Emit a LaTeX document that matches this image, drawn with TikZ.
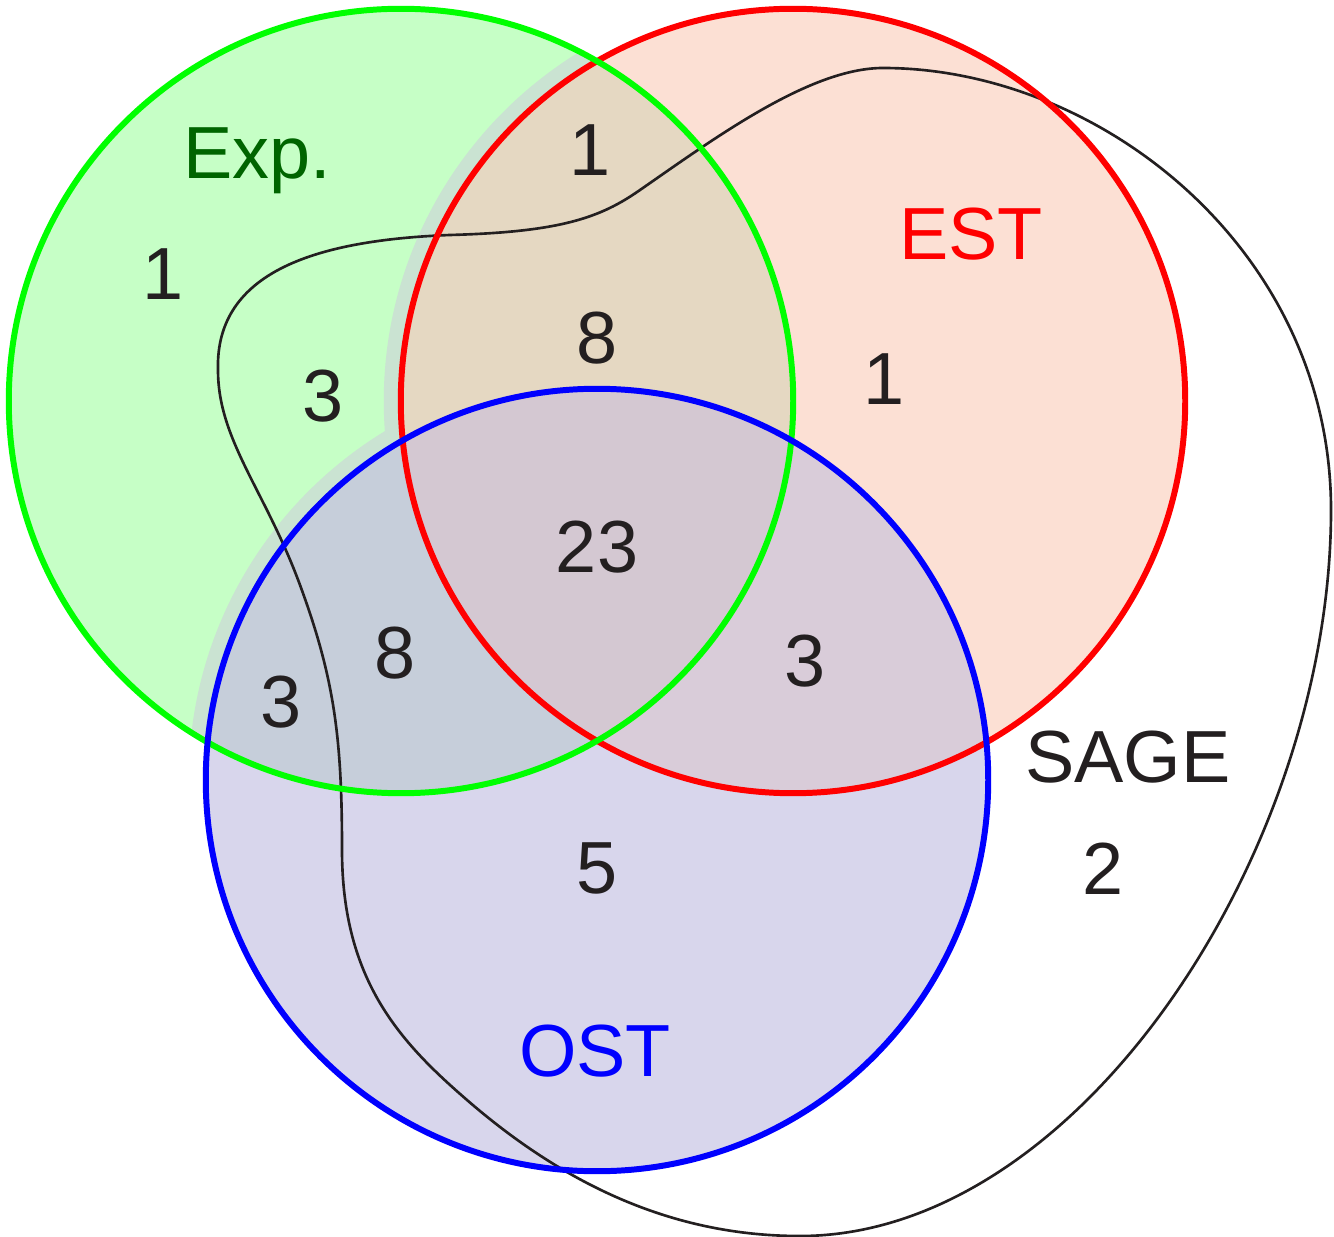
\documentclass[tikz,border=0pt]{standalone}
\usepackage{fontspec}
\setmainfont{Liberation Sans}
\usepackage{tikz}

\definecolor{expfill}{RGB}{198,255,198}
\definecolor{estfill}{RGB}{252,224,212}
\definecolor{ostfill}{RGB}{216,214,236}
\definecolor{expest}{RGB}{229,216,194}
\definecolor{expost}{RGB}{198,206,218}
\definecolor{estost}{RGB}{217,204,217}
\definecolor{allthree}{RGB}{212,200,210}
\definecolor{bandgray}{RGB}{202,227,210}
\definecolor{ink}{RGB}{35,31,32}
\definecolor{expgreen}{RGB}{0,100,0}

\begin{document}
\begin{tikzpicture}[x=0.01cm, y=-0.01cm,
    num/.style = {font=\fontsize{21}{25}\selectfont, text=ink, anchor=base, inner sep=0pt},
    setname/.style = {num},
    ring/.style = {line width=1.7pt}]
    \useasboundingbox (0,0) rectangle (1334,1237);
    \coordinate (exp) at (401,401);
    \coordinate (est) at (793,401);
    \coordinate (ost) at (597,780);

    % fills
    \fill[expfill] (exp) circle[radius=3.92cm];
    \fill[estfill] (est) circle[radius=3.92cm];
    \fill[ostfill] (ost) circle[radius=3.91cm];
    \begin{scope}
        \clip (exp) circle[radius=3.92cm];
        \fill[bandgray] (est) circle[radius=4.09cm];
        \fill[bandgray] (ost) circle[radius=4.08cm];
        \fill[expest] (est) circle[radius=3.92cm];
        \fill[expost] (ost) circle[radius=3.91cm];
    \end{scope}
    \begin{scope}
        \clip (est) circle[radius=3.92cm];
        \fill[estost] (ost) circle[radius=3.91cm];
        \clip (exp) circle[radius=3.92cm];
        \fill[allthree] (ost) circle[radius=3.91cm];
    \end{scope}

    % SAGE
    \draw[ink, line width=0.75pt] (218,370)
        .. controls (215,270) and (320,240) .. (450,235)
        .. controls (560,232) and (600,218) .. (640,190)
        .. controls (715,138) and (810,68) .. (883,68)
        .. controls (1100,68) and (1331,250) .. (1331,510)
        .. controls (1331,850) and (1080,1236) .. (800,1236)
        .. controls (690,1236) and (580,1198) .. (467,1100)
        .. controls (400,1042) and (342,980) .. (342,850)
        .. controls (342,740) and (335,680) .. (300,585)
        .. controls (265,490) and (218,440) .. cycle;

    \draw[ring, red] (est) circle[radius=3.92cm];
    \draw[ring, green] (exp) circle[radius=3.92cm];
    \draw[ring, blue] (ost) circle[radius=3.91cm];

    \node[setname, text=expgreen] (lexp) at (257,179) {Exp.};
    \node[setname, text=red] (lest) at (971,260) {EST};
    \node[setname, text=blue] (lost) at (595,1076) {OST};
    \node[setname] (lsage) at (1128,782) {SAGE};

    \node[num] (e) at (163,300) {1};
    \node[num] (es) at (323,422) {3};
    \node[num] (er) at (590,176) {1};
    \node[num] (ers) at (597,364) {8};
    \node[num] (rs) at (884,405) {1};
    \node[num] (all) at (597,572) {23};
    \node[num] (rb) at (805,686) {3};
    \node[num] (ebs) at (395,678) {8};
    \node[num] (eb) at (281,727) {3};
    \node[num] (bs) at (597,893) {5};
    \node[num] (s) at (1103,894) {2};
\end{tikzpicture}
\end{document}
